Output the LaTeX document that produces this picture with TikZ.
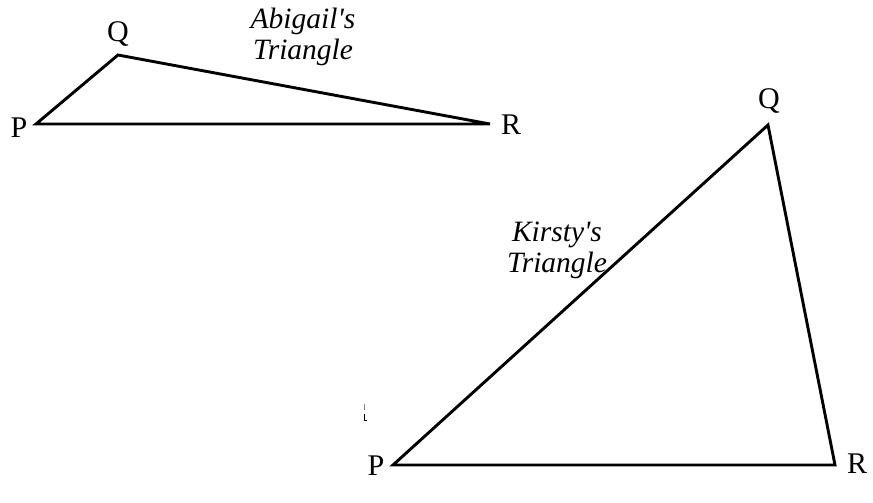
\documentclass[tikz,border=0pt]{standalone}
\usepackage{fontspec}
\setmainfont{Liberation Serif}
\begin{document}
\begin{tikzpicture}[x=1pt,y=-1pt,
  tri/.style={line width=2.9pt,line join=miter},
  vlabel/.style={font=\fontsize{30}{32}\selectfont,inner sep=0pt},
  tname/.style={font=\fontsize{29.5}{31}\selectfont\itshape,inner sep=0pt,align=center}]
\useasboundingbox (0,0) rectangle (873,503);
% Abigail's triangle
\coordinate (aP) at (36,124);
\coordinate (aQ) at (118,55);
\coordinate (aR) at (490,124);
\draw[tri] (aP) -- (aQ) -- (aR) -- cycle;
\node[vlabel] (laP) at (19,128) {P};
\node[vlabel] (laQ) at (118,34) {Q};
\node[vlabel] (laR) at (511,125) {R};
\node[tname] (aname) at (303,37) {Abigail\textquotesingle s\\Triangle};
% Kirsty's triangle
\coordinate (kP) at (393,465);
\coordinate (kQ) at (768,125);
\coordinate (kR) at (835,465);
\draw[tri] (kP) -- (kQ) -- (kR) -- cycle;
\node[vlabel] (lkP) at (376,466) {P};
\node[vlabel] (lkQ) at (769,101) {Q};
\node[vlabel] (lkR) at (857,464) {R};
\node[tname] (kname) at (557,250) {Kirsty\textquotesingle s\\Triangle};
% stray mark
\coordinate (m1) at (364.5,404);
\coordinate (m2) at (364.5,410);
\coordinate (m3) at (364.5,414);
\coordinate (m4) at (364.5,420);
\coordinate (m5) at (367,420);
\draw[line width=0.6pt,gray] (m1) -- (m2);
\draw[line width=1pt] (m3) -- (m4) -- (m5);
\end{tikzpicture}
\end{document}
